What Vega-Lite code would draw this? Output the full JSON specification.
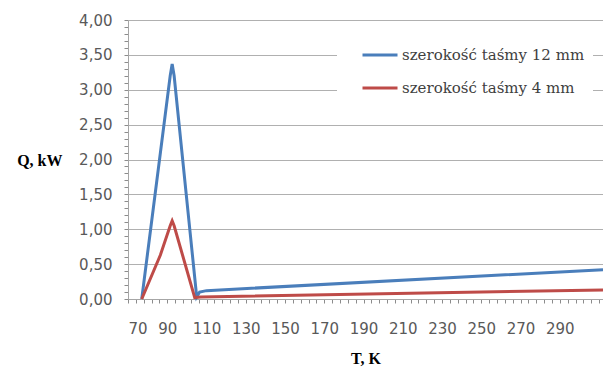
{
  "$schema": "https://vega.github.io/schema/vega-lite/v6.json",
  "width": 475,
  "height": 279,
  "autosize": "none",
  "padding": {"left": 128, "top": 20, "right": 0, "bottom": 70},
  "background": "white",
  "config": {
    "view": {"stroke": null},
    "locale": {"number": {"decimal": ",", "thousands": " ", "grouping": [3], "currency": ["", " zł"]}}
  },
  "data": {
    "values": [
      {"T": 77, "Q": 0, "series": "szerokość taśmy 12 mm"},
      {"T": 91.5, "Q": 3.2, "series": "szerokość taśmy 12 mm"},
      {"T": 92.5, "Q": 3.37, "series": "szerokość taśmy 12 mm"},
      {"T": 93.5, "Q": 3.2, "series": "szerokość taśmy 12 mm"},
      {"T": 105, "Q": 0.03, "series": "szerokość taśmy 12 mm"},
      {"T": 106.5, "Q": 0.1, "series": "szerokość taśmy 12 mm"},
      {"T": 110, "Q": 0.12, "series": "szerokość taśmy 12 mm"},
      {"T": 312, "Q": 0.42, "series": "szerokość taśmy 12 mm"},
      {"T": 77, "Q": 0, "series": "szerokość taśmy 4 mm"},
      {"T": 86.5, "Q": 0.63, "series": "szerokość taśmy 4 mm"},
      {"T": 91.5, "Q": 1.05, "series": "szerokość taśmy 4 mm"},
      {"T": 92.5, "Q": 1.12, "series": "szerokość taśmy 4 mm"},
      {"T": 93.5, "Q": 1.05, "series": "szerokość taśmy 4 mm"},
      {"T": 104, "Q": 0.02, "series": "szerokość taśmy 4 mm"},
      {"T": 107, "Q": 0.03, "series": "szerokość taśmy 4 mm"},
      {"T": 312, "Q": 0.13, "series": "szerokość taśmy 4 mm"}
    ]
  },
  "layer": [
    {
      "mark": {"type": "line", "opacity": 0},
      "encoding": {
        "x": {
          "field": "T", "type": "quantitative",
          "scale": {"domain": [70, 312], "nice": false, "zero": false},
          "axis": {"orient": "bottom", "values": [70,74,78,82,86,90,94,98,102,106,110,114,118,122,126,130,134,138,142,146,150,154,158,162,166,170,174,178,182,186,190,194,198,202,206,210,214,218,222,226,230,234,238,242,246,250,254,258,262,266,270,274,278,282,286,290,294,298,302,306,310],
            "labels": false, "grid": false, "domain": false, "ticks": true, "tickSize": 4, "tickColor": "#8c8c8c", "tickWidth": 1, "title": null}
        },
        "y": {
          "field": "Q", "type": "quantitative",
          "scale": {"domain": [0, 4], "nice": false},
          "axis": {"orient": "left", "values": [0,0.1,0.2,0.3,0.4,0.5,0.6,0.7,0.8,0.9,1,1.1,1.2,1.3,1.4,1.5,1.6,1.7,1.8,1.9,2,2.1,2.2,2.3,2.4,2.5,2.6,2.7,2.8,2.9,3,3.1,3.2,3.3,3.4,3.5,3.6,3.7,3.8,3.9,4],
            "labels": false, "grid": false, "domain": false, "ticks": true, "tickSize": 4, "tickColor": "#8c8c8c", "tickWidth": 1, "title": null}
        },
        "detail": {"field": "series"}
      }
    },
    {
      "mark": {"type": "line", "strokeWidth": 3},
      "encoding": {
        "x": {
          "field": "T", "type": "quantitative",
          "scale": {"domain": [70, 312], "nice": false, "zero": false},
          "axis": {"orient": "bottom", "values": [70,90,110,130,150,170,190,210,230,250,270,290],
            "grid": false, "ticks": false, "domain": true, "domainColor": "#a6a6a6",
            "labelPadding": 22, "labelFont": "DejaVu Sans", "labelFontSize": 15, "labelColor": "#595959",
            "title": "T, K", "titleFont": "Liberation Serif", "titleFontSize": 16, "titleFontWeight": "bold", "titleColor": "#000000",
            "titlePadding": 14}
        },
        "y": {
          "field": "Q", "type": "quantitative",
          "scale": {"domain": [0, 4], "nice": false},
          "axis": {"orient": "left", "values": [0,0.5,1,1.5,2,2.5,3,3.5,4], "format": ".2f",
            "grid": true, "gridColor": "#b0b0b0", "ticks": false, "domain": true, "domainColor": "#a6a6a6",
            "labelPadding": 16, "labelFont": "DejaVu Sans", "labelFontSize": 15, "labelColor": "#595959",
            "title": "Q, kW", "titleFont": "Liberation Serif", "titleFontSize": 16, "titleFontWeight": "bold", "titleColor": "#000000",
            "titleAngle": 0, "titleAlign": "right", "titleBaseline": "middle", "titleX": -66, "titleY": 140}
        },
        "color": {
          "field": "series", "type": "nominal",
          "scale": {"domain": ["szerokość taśmy 12 mm", "szerokość taśmy 4 mm"], "range": ["#4a7ebb", "#be4b48"]},
          "legend": {"orient": "none", "legendX": 209, "legendY": 8, "title": " ", "titleOrient": "left", "titlePadding": 16, "titleFontSize": 10,
            "symbolType": "stroke", "symbolSize": 1225, "symbolStrokeWidth": 3,
            "labelFont": "DejaVu Serif", "labelFontSize": 15, "labelColor": "#404040", "labelOffset": 3, "labelLimit": 0,
            "rowPadding": 6, "padding": 8, "fillColor": "white"}
        }
      }
    }
  ],
  "resolve": {"axis": {"x": "independent", "y": "independent"}}
}
